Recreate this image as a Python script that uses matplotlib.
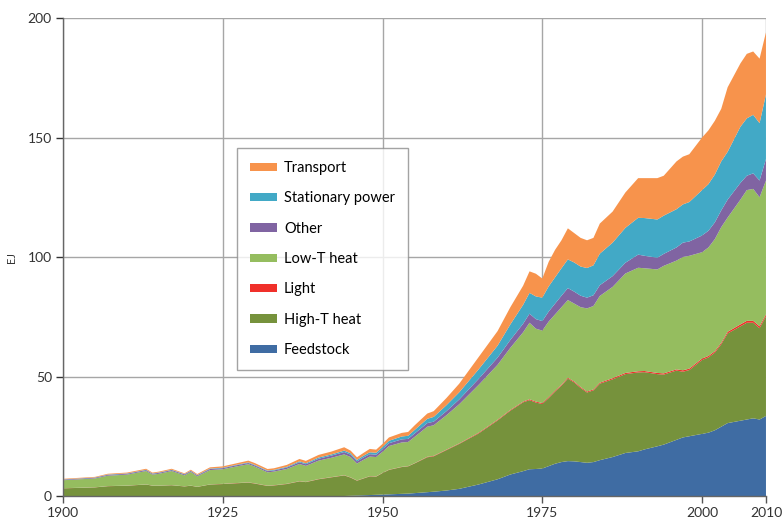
import numpy as np
import matplotlib
matplotlib.use("Agg")
import matplotlib.pyplot as plt

plt.rcParams['font.family'] = ['Lato', 'DejaVu Sans']

# Años (irregulares, se eligen donde la curva cambia)
years = [1900, 1905, 1907, 1910, 1913, 1914, 1915, 1917, 1919, 1920, 1921, 1923,
         1925, 1927, 1929, 1930, 1932, 1933, 1935, 1937, 1938, 1940, 1942, 1944,
         1945, 1946, 1947, 1948, 1949, 1950, 1951, 1953, 1954, 1955, 1957, 1958,
         1960, 1962, 1965, 1968, 1970, 1972, 1973, 1974, 1975, 1976, 1977, 1978,
         1979, 1980, 1981, 1982, 1983, 1984, 1986, 1988, 1990, 1991, 1993, 1994,
         1996, 1997, 1998, 2000, 2001, 2002, 2003, 2004, 2006, 2007, 2008, 2009,
         2010]

# Valores por capa (EJ)
feedstock = [0, 0, 0, 0, 0, 0, 0, 0, 0, 0, 0, 0,
             0, 0, 0, 0, 0, 0, 0, 0, 0, 0, 0, 0,
             0.1, 0.2, 0.3, 0.4, 0.5, 0.6, 0.7, 0.9, 1.0, 1.2, 1.6, 1.8,
             2.3, 3.0, 4.8, 7.0, 9.0, 10.4, 11.2, 11.3, 11.5, 12.5, 13.5, 14.2,
             14.6, 14.5, 14.2, 13.9, 14.2, 15.0, 16.3, 18.0, 18.7, 19.5, 20.8, 21.5,
             23.5, 24.5, 25.0, 26.0, 26.5, 27.5, 29.0, 30.5, 31.5, 32.0, 32.5, 32.0,
             33.5]
high_t = [3.2, 3.6, 4.1, 4.3, 4.8, 4.3, 4.3, 4.5, 4.0, 4.3, 3.8, 4.8,
          5.0, 5.3, 5.6, 5.2, 4.2, 4.4, 5.0, 6.1, 5.8, 7.0, 7.8, 8.6,
          7.6, 6.2, 7.0, 7.8, 7.6, 9.0, 10.2, 11.2, 11.4, 12.4, 14.6, 14.8,
          16.9, 18.8, 21.3, 24.6, 26.7, 28.8, 28.9, 27.8, 27.0, 28.5, 30.2, 32.0,
          34.5, 33.0, 31.0, 29.4, 30.0, 32.0, 32.5, 33.0, 33.0, 32.3, 30.2, 29.3,
          29.0, 27.5, 27.7, 30.9, 31.5, 32.5, 34.5, 37.5, 39.5, 40.5, 40.0, 38.2,
          41.7]
light = [0.05, 0.05, 0.05, 0.05, 0.05, 0.05, 0.05, 0.05, 0.05, 0.05, 0.05, 0.05,
         0.1, 0.1, 0.1, 0.1, 0.1, 0.1, 0.1, 0.1, 0.1, 0.1, 0.1, 0.1,
         0.1, 0.1, 0.1, 0.1, 0.1, 0.1, 0.1, 0.1, 0.1, 0.1, 0.2, 0.2,
         0.2, 0.2, 0.3, 0.3, 0.3, 0.3, 0.4, 0.4, 0.4, 0.4, 0.4, 0.4,
         0.4, 0.4, 0.4, 0.4, 0.4, 0.4, 0.5, 0.5, 0.5, 0.5, 0.5, 0.5,
         0.5, 0.6, 0.6, 0.6, 0.6, 0.6, 0.6, 0.7, 0.8, 0.8, 0.8, 0.8,
         0.8]
low_t = [3.35, 3.7, 4.35, 4.6, 5.6, 4.6, 4.95, 5.9, 4.6, 5.7, 4.4, 6.0,
         6.1, 6.9, 7.6, 7.0, 5.6, 5.7, 6.2, 7.2, 6.7, 7.7, 8.1, 8.7,
         8.5, 7.1, 7.7, 8.2, 8.1, 8.8, 9.9, 10.2, 10.1, 11.0, 12.6, 12.8,
         14.4, 16.4, 20.0, 23.0, 26.0, 29.0, 32.0, 30.5, 30.3, 31.6, 31.9, 32.4,
         32.5, 32.6, 33.4, 34.8, 34.9, 36.3, 38.2, 41.6, 43.3, 43.0, 43.3, 45.0,
         45.5, 47.4, 47.2, 44.5, 45.4, 46.9, 48.4, 47.8, 52.2, 54.7, 55.2, 54.0,
         56.0]
other = [0.25, 0.3, 0.35, 0.35, 0.4, 0.35, 0.4, 0.4, 0.4, 0.4, 0.4, 0.45,
         0.45, 0.5, 0.5, 0.5, 0.5, 0.5, 0.6, 0.7, 0.7, 0.8, 0.9, 1.0,
         1.0, 0.9, 1.0, 1.0, 1.0, 1.1, 1.2, 1.3, 1.3, 1.4, 1.5, 1.5,
         1.7, 2.0, 2.5, 3.0, 3.3, 3.6, 3.8, 4.0, 4.0, 4.2, 4.5, 4.8,
         5.0, 5.0, 4.8, 4.5, 4.5, 4.5, 4.5, 4.5, 5.5, 5.2, 4.9, 5.0,
         5.5, 6.0, 6.0, 7.0, 7.0, 7.0, 7.0, 7.5, 7.0, 6.0, 6.5, 7.0,
         9.0]
stationary = [0.1, 0.1, 0.15, 0.15, 0.15, 0.15, 0.15, 0.15, 0.15, 0.15, 0.15, 0.2,
              0.2, 0.2, 0.25, 0.25, 0.25, 0.25, 0.3, 0.4, 0.4, 0.5, 0.5, 0.6,
              0.6, 0.6, 0.7, 0.8, 0.8, 0.9, 1.0, 1.2, 1.3, 1.5, 1.8, 2.0,
              2.5, 3.0, 4.0, 5.0, 6.5, 7.9, 8.7, 9.5, 9.8, 10.5, 11.0, 11.5,
              12.0, 12.2, 12.2, 12.4, 12.5, 13.2, 14.0, 14.6, 15.4, 15.8, 16.0, 16.0,
              16.0, 16.0, 16.5, 19.0, 19.5, 20.0, 20.5, 20.0, 23.5, 24.0, 24.5, 24.0,
              27.0]
transport = [0.25, 0.25, 0.3, 0.35, 0.4, 0.35, 0.35, 0.4, 0.3, 0.4, 0.4, 0.5,
             0.55, 0.6, 0.75, 0.75, 0.65, 0.65, 0.8, 1.0, 1.0, 1.1, 1.2, 1.4,
             1.1, 1.1, 1.2, 1.4, 1.3, 1.3, 1.4, 1.5, 1.6, 1.9, 2.2, 2.4,
             3.0, 3.6, 5.1, 6.1, 7.2, 8.0, 9.0, 9.5, 8.0, 10.3, 11.5, 11.7,
             13.0, 12.3, 12.0, 11.6, 11.5, 12.6, 13.0, 14.8, 16.6, 16.7, 17.3, 16.7,
             20.0, 20.0, 20.0, 22.0, 22.5, 22.5, 22.0, 27.0, 26.5, 27.0, 26.5, 27.0,
             26.0]

labels = ["Feedstock", "High-T heat", "Light", "Low-T heat", "Other",
          "Stationary power", "Transport"]
colors = ["#3F6CA3", "#76923C", "#F0302A", "#95BD5F", "#8064A2",
          "#42A9C6", "#F7934C"]

fig = plt.figure(figsize=(7.82, 5.22), dpi=100)
ax = fig.add_axes([0.0806, 0.0498, 0.8989, 0.9157])

polys = ax.stackplot(years, feedstock, high_t, light, low_t, other, stationary,
                     transport, colors=colors, labels=labels, linewidth=0)

ax.set_xlim(1900, 2010)
ax.set_ylim(0, 200)
ax.set_xticks([1900, 1925, 1950, 1975, 2000, 2010])
ax.set_yticks([0, 50, 100, 150, 200])
ax.set_ylabel("EJ", fontsize=8, labelpad=8, color="#333333")

ax.grid(True, color="#A6A6A6", linewidth=1.0)
ax.set_axisbelow(True)
ax.tick_params(axis="both", labelsize=10, colors="#333333", length=5,
               width=1, direction="out", pad=3)
ax.tick_params(axis="x", colors="#555555", labelcolor="#333333")

for s in ["top", "right"]:
    ax.spines[s].set_visible(False)
for s in ["left", "bottom"]:
    ax.spines[s].set_color("#666666")
    ax.spines[s].set_linewidth(1)

# leyenda en el orden de arriba hacia abajo
handles, labs = ax.get_legend_handles_labels()
leg = ax.legend(handles[::-1], labs[::-1], loc="upper left",
                bbox_to_anchor=(0.247, 0.728), fontsize=10.5, frameon=True,
                fancybox=False, edgecolor="#8C8C8C", handlelength=1.9,
                handleheight=0.5, labelspacing=1.12, borderpad=0.9,
                handletextpad=0.45, borderaxespad=0)
leg.get_frame().set_linewidth(1)

fig.savefig("out.png", dpi=100)
